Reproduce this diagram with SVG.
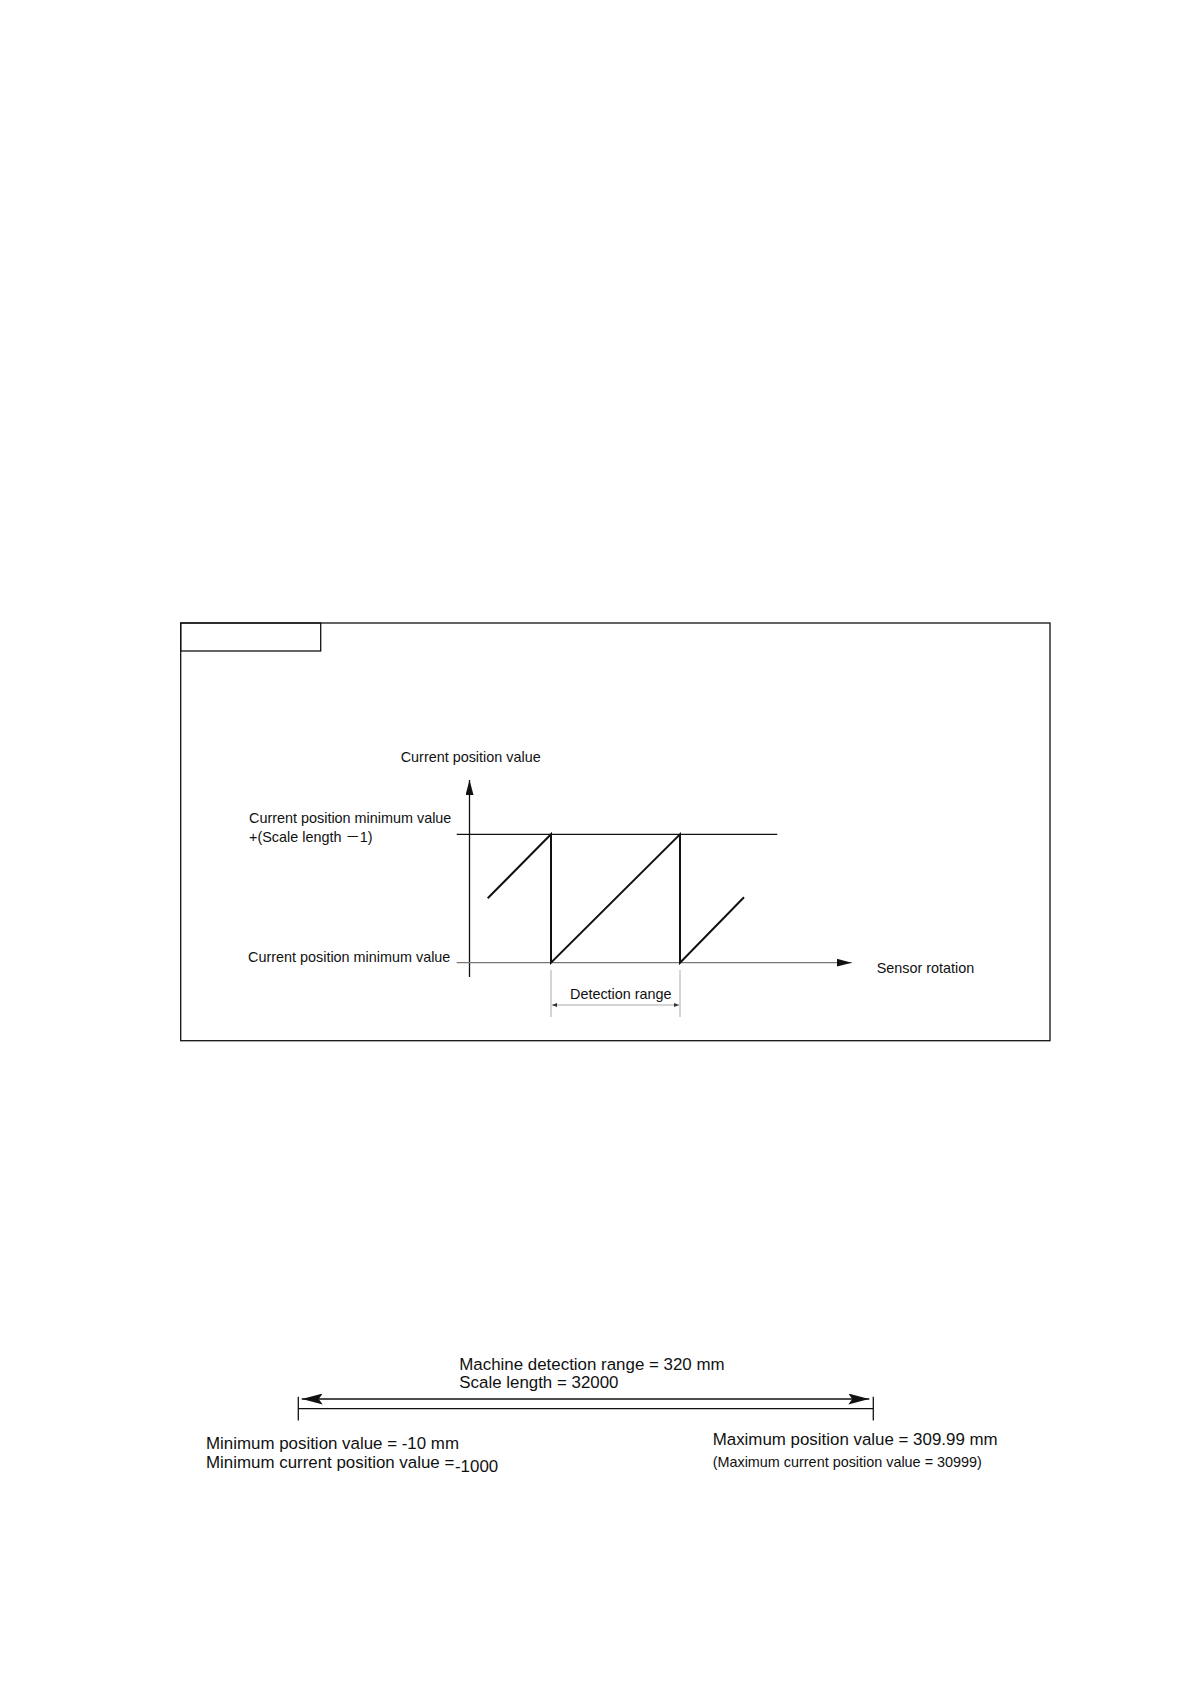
<svg xmlns="http://www.w3.org/2000/svg" width="1191" height="1684" viewBox="0 0 1191 1684">
<style>
.t{font-family:"Liberation Sans",Arial,sans-serif;fill:#111}
.s14{font-size:14.4px}
.s17{font-size:16.9px}
.ln{stroke:#111;stroke-width:1.3;fill:none}
.rp{stroke:#111;stroke-width:2;fill:none}
.gr{stroke:#777;stroke-width:1.3;fill:none}
.lg{stroke:#aaa;stroke-width:1;fill:none}
</style>
<defs>
<marker id="ah" viewBox="0 0 15 8" refX="15" refY="4" markerWidth="15" markerHeight="8" markerUnits="userSpaceOnUse" orient="auto"><path d="M0,0 L15,4 L0,8 z" fill="#111"/></marker>
<marker id="sm" viewBox="0 0 5 4" refX="5" refY="2" markerWidth="5" markerHeight="4" markerUnits="userSpaceOnUse" orient="auto-start-reverse"><path d="M0,0 L5,2 L0,4 z" fill="#333"/></marker>
<marker id="big" viewBox="0 0 21 11" refX="21" refY="5.5" markerWidth="21" markerHeight="11" markerUnits="userSpaceOnUse" orient="auto-start-reverse"><path d="M0,0 L21,5.5 L0,11 L4,5.5 z" fill="#111"/></marker>
</defs>
<rect width="1191" height="1684" fill="#fff"/>
<g id="frame">
<rect x="180.7" y="623" width="869.3" height="417.7" class="ln"/>
<rect x="180.7" y="623" width="140" height="28" class="ln"/>
</g>
<g id="connectors">
<line x1="469.5" y1="977" x2="469.5" y2="780" class="ln" marker-end="url(#ah)"/>
<line x1="456.7" y1="962.7" x2="851.7" y2="962.7" class="gr" marker-end="url(#ah)"/>
<line x1="456.7" y1="834.3" x2="777.3" y2="834.3" class="ln"/>
<polyline points="487.7,898.3 551,834.3 551,962.7 680,834.3 680,962.7 744,897.3" class="rp"/>
<line x1="551" y1="970" x2="551" y2="1017" class="lg"/>
<line x1="680" y1="970" x2="680" y2="1017" class="lg"/>
<line x1="552" y1="1005" x2="679" y2="1005" class="lg" marker-start="url(#sm)" marker-end="url(#sm)"/>
<line x1="298.3" y1="1396.7" x2="298.3" y2="1420.5" class="ln"/>
<line x1="873.3" y1="1396.7" x2="873.3" y2="1420.5" class="ln"/>
<line x1="301.7" y1="1399" x2="869.3" y2="1399" class="ln" marker-start="url(#big)" marker-end="url(#big)"/>
<line x1="298.3" y1="1408.7" x2="873.3" y2="1408.7" class="ln"/>
</g>
<g id="labels">
<text x="400.7" y="762" class="t s14">Current position value</text>
<text x="249" y="823" class="t s14">Current position minimum value</text>
<text x="249" y="842" class="t s14">+(Scale length <tspan font-family="'Noto Sans CJK JP',sans-serif">－</tspan>1)</text>
<text x="248" y="962" class="t s14">Current position minimum value</text>
<text x="876.7" y="972.7" class="t s14">Sensor rotation</text>
<text x="570" y="999" class="t s14">Detection range</text>
<text x="459.3" y="1370" class="t s17">Machine detection range = 320 mm</text>
<text x="459.3" y="1388.3" class="t s17">Scale length = 32000</text>
<text x="206" y="1449.3" class="t s17">Minimum position value = -10 mm</text>
<text x="206" y="1468.3" class="t s17">Minimum current position value =</text>
<text x="455" y="1471.5" class="t s17">-1000</text>
<text x="712.7" y="1445" class="t s17">Maximum position value = 309.99 mm</text>
<text x="712.7" y="1466.7" class="t s14">(Maximum current position value = 30999)</text>
</g>
</svg>
